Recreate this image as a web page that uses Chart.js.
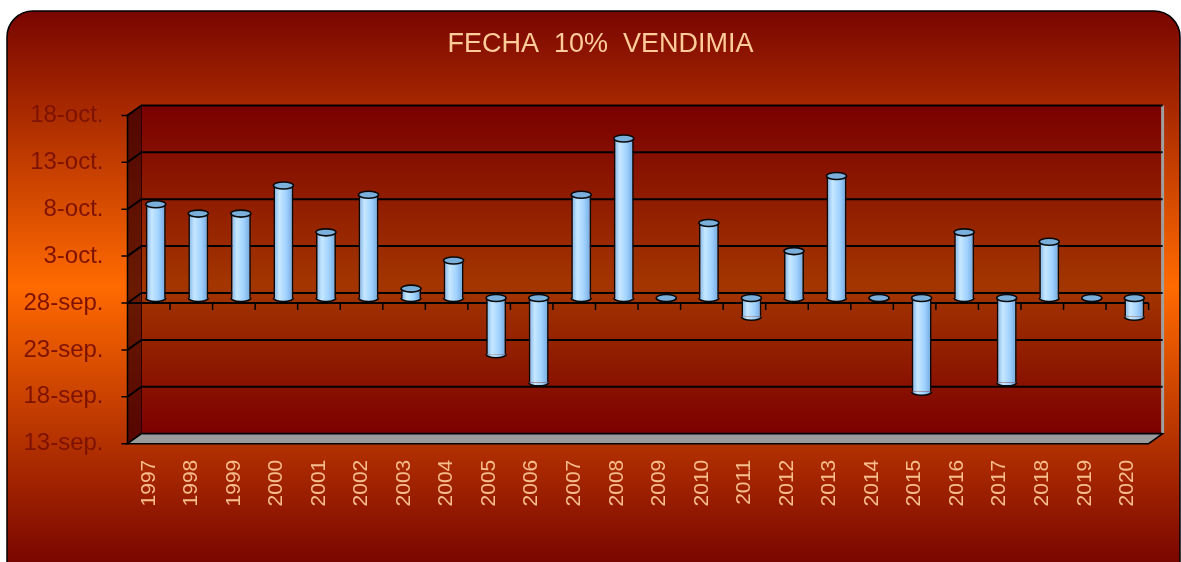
<!DOCTYPE html>
<html>
<head>
<meta charset="utf-8">
<script src="https://cdn.jsdelivr.net/npm/chart.js@4.4.1/dist/chart.umd.min.js"></script>
<style>
  body { margin: 0; background: #fff; }
  #wrap { width: 1181px; height: 562px; position: relative; }
</style>
</head>
<body>
<div id="wrap"><canvas id="chart"></canvas></div>
<script>
// años de vendimia
const years = ['1997','1998','1999','2000','2001','2002','2003','2004','2005','2006','2007','2008',
               '2009','2010','2011','2012','2013','2014','2015','2016','2017','2018','2019','2020'];
// dias respecto al 28-sep (fecha del 10% de vendimia)
const daysFrom28Sep = [10, 9, 9, 12, 7, 11, 1, 4, -6, -9, 11, 17, 0, 8, -2, 5, 13, 0, -10, 7, -9, 6, 0, -2];
// etiquetas del eje y (de -15 a 20, cada 5 dias)
const yTickValues = [-15, -10, -5, 0, 5, 10, 15, 20];
const yTickLabels = ['13-sep.', '18-sep.', '23-sep.', '28-sep.', '3-oct.', '8-oct.', '13-oct.', '18-oct.'];

const DX = 7, DY = 5; // medio fondo del efecto 3D

const cylinderFill = (ctx, x, w) => {
    const g = ctx.createLinearGradient(x - w / 2, 0, x + w / 2, 0);
    g.addColorStop(0, '#78b0e6');
    g.addColorStop(0.3, '#c6e7ff');
    g.addColorStop(0.65, '#a0d2ff');
    g.addColorStop(1, '#6ea4da');
    return g;
};

const roundTopRect = (ctx, x, y, w, h, r) => {
    ctx.beginPath();
    ctx.moveTo(x, y + h);
    ctx.lineTo(x, y + r);
    ctx.arcTo(x, y, x + r, y, r);
    ctx.lineTo(x + w - r, y);
    ctx.arcTo(x + w, y, x + w, y + r, r);
    ctx.lineTo(x + w, y + h);
};

const scene3d = {
    id: 'scene3d',
    beforeDraw(chart) {
        const ctx = chart.ctx;
        const ca = chart.chartArea;
        const ys = chart.scales.y;
        const front = v => ys.getPixelForValue(v) + DY;
        const back = v => ys.getPixelForValue(v) - DY;
        const fl = ca.left - DX, fr = ca.right - DX;
        const bl = ca.left + DX, br = ca.right + DX;
        const top = yTickValues[yTickValues.length - 1], bottom = yTickValues[0];

        ctx.save();
        // panel de fondo
        const bg = ctx.createLinearGradient(0, 11, 0, chart.height);
        bg.addColorStop(0, '#780500');
        bg.addColorStop(0.5, '#ff6a00');
        bg.addColorStop(1, '#7a0600');
        roundTopRect(ctx, 7, 11, 1173, 620, 26);
        ctx.fillStyle = bg;
        ctx.fill();
        ctx.lineWidth = 1.5;
        ctx.strokeStyle = '#000';
        ctx.stroke();

        // pared del fondo
        const wall = ctx.createLinearGradient(0, back(top), 0, back(bottom));
        wall.addColorStop(0, '#7a0000');
        wall.addColorStop(0.55, '#a33600');
        wall.addColorStop(1, '#7c0000');
        ctx.fillStyle = wall;
        ctx.fillRect(bl, back(top), br - bl, back(bottom) - back(top));

        // pared lateral
        const side = ctx.createLinearGradient(0, back(top), 0, front(bottom));
        side.addColorStop(0, '#520600');
        side.addColorStop(0.55, '#6a1a00');
        side.addColorStop(1, '#560500');
        ctx.beginPath();
        ctx.moveTo(fl, front(top));
        ctx.lineTo(bl, back(top));
        ctx.lineTo(bl, back(bottom));
        ctx.lineTo(fl, front(bottom));
        ctx.closePath();
        ctx.fillStyle = side;
        ctx.fill();
        ctx.strokeStyle = '#2a0000';
        ctx.lineWidth = 1;
        ctx.stroke();

        // borde derecho gris
        ctx.strokeStyle = '#a0a0a0';
        ctx.lineWidth = 3;
        ctx.beginPath();
        ctx.moveTo(br, back(top));
        ctx.lineTo(br, back(bottom));
        ctx.stroke();

        // lineas de division
        ctx.strokeStyle = '#000';
        ctx.lineWidth = 2;
        yTickValues.forEach(v => {
            ctx.beginPath();
            ctx.moveTo(fl, front(v));
            ctx.lineTo(bl, back(v));
            ctx.lineTo(br, back(v));
            ctx.stroke();
        });

        // suelo
        ctx.beginPath();
        ctx.moveTo(fl, front(bottom));
        ctx.lineTo(fr, front(bottom));
        ctx.lineTo(br, back(bottom));
        ctx.lineTo(bl, back(bottom));
        ctx.closePath();
        ctx.fillStyle = '#9b9b9b';
        ctx.fill();
        ctx.lineWidth = 1.5;
        ctx.stroke();

        // eje y frontal y marcas
        ctx.beginPath();
        ctx.moveTo(fl, front(top));
        ctx.lineTo(fl, front(bottom));
        yTickValues.forEach(v => {
            ctx.moveTo(fl - 6, front(v));
            ctx.lineTo(fl, front(v));
        });
        ctx.stroke();

        // eje x en 28-sep con marcas
        const w = (ca.right - ca.left) / years.length;
        ctx.lineWidth = 2;
        ctx.beginPath();
        ctx.moveTo(fl, front(0));
        ctx.lineTo(fr, front(0));
        ctx.stroke();
        ctx.lineWidth = 1.5;
        ctx.beginPath();
        for (let i = 1; i <= years.length; i++) {
            const x = fl + i * w;
            ctx.moveTo(x, front(0));
            ctx.lineTo(x, front(0) + 7);
        }
        ctx.stroke();
        ctx.restore();
    },
    afterDatasetsDraw(chart) {
        const ctx = chart.ctx;
        const meta = chart.getDatasetMeta(0);
        ctx.save();
        ctx.strokeStyle = '#0a0a0a';
        ctx.lineWidth = 1.6;
        meta.data.forEach(bar => {
            const p = bar.getProps(['x', 'y', 'base', 'width'], true);
            const rx = p.width / 2, ry = 3.5;
            const yTop = Math.min(p.y, p.base);
            const yBot = Math.max(p.y, p.base);
            // base del cilindro
            ctx.beginPath();
            ctx.ellipse(p.x, yBot, rx, ry, 0, 0, Math.PI);
            ctx.fillStyle = cylinderFill(ctx, p.x, p.width);
            ctx.fill();
            ctx.stroke();
            // tapa superior
            ctx.beginPath();
            ctx.ellipse(p.x, yTop, rx, ry, 0, 0, Math.PI * 2);
            ctx.fillStyle = '#7bafdc';
            ctx.fill();
            ctx.stroke();
        });
        ctx.restore();
    }
};

const graph = document.querySelector('#chart');

const chart = new Chart(graph, {
    type: 'bar',
    data: {
        labels: years,
        datasets: [{
            label: 'Fecha 10% vendimia',
            data: daysFrom28Sep,
            backgroundColor: (c) => {
                const el = c.element;
                if (!el || !Number.isFinite(el.x) || !el.width) return '#a0d2ff';
                return cylinderFill(c.chart.ctx, el.x, el.width);
            },
            borderColor: '#0a0a0a',
            borderWidth: { left: 1.6, right: 1.6, top: 0, bottom: 0 },
            borderSkipped: false,
            barPercentage: 0.47,
            categoryPercentage: 1
        }]
    },
    options: {
        responsive: true,
        maintainAspectRatio: false,
        animation: false,
        layout: { padding: { left: 20, right: 0, top: 0, bottom: 0 } },
        plugins: {
            legend: { display: false },
            tooltip: { enabled: false },
            title: {
                display: true,
                text: 'FECHA  10%  VENDIMIA',
                color: '#ffcc99',
                font: { family: 'Liberation Sans', size: 27, weight: 'normal' },
                padding: { top: 28, bottom: 50 }
            }
        },
        scales: {
            x: {
                grid: { display: false, drawTicks: false },
                border: { display: false },
                ticks: {
                    color: '#f7bd8c',
                    font: { family: 'Liberation Sans', size: 21 },
                    minRotation: 90,
                    maxRotation: 90,
                    autoSkip: false,
                    padding: 21,
                    labelOffset: -DX
                },
                afterFit: (scale) => { scale.height = 123.3; }
            },
            y: {
                min: -15,
                max: 20,
                grid: { display: false, drawTicks: false },
                border: { display: false },
                ticks: {
                    stepSize: 5,
                    color: '#7d1200',
                    font: { family: 'Liberation Sans', size: 24 },
                    padding: 31,
                    labelOffset: DY,
                    callback: (v) => yTickLabels[yTickValues.indexOf(v)]
                },
                afterFit: (scale) => { scale.width = 114.5; }
            },
            yRight: {
                position: 'right',
                min: 0,
                max: 1,
                grid: { display: false, drawTicks: false },
                border: { display: false },
                ticks: { display: false },
                afterFit: (scale) => { scale.width = 22; }
            }
        }
    },
    plugins: [scene3d]
});

chart.update();
</script>
</body>
</html>
